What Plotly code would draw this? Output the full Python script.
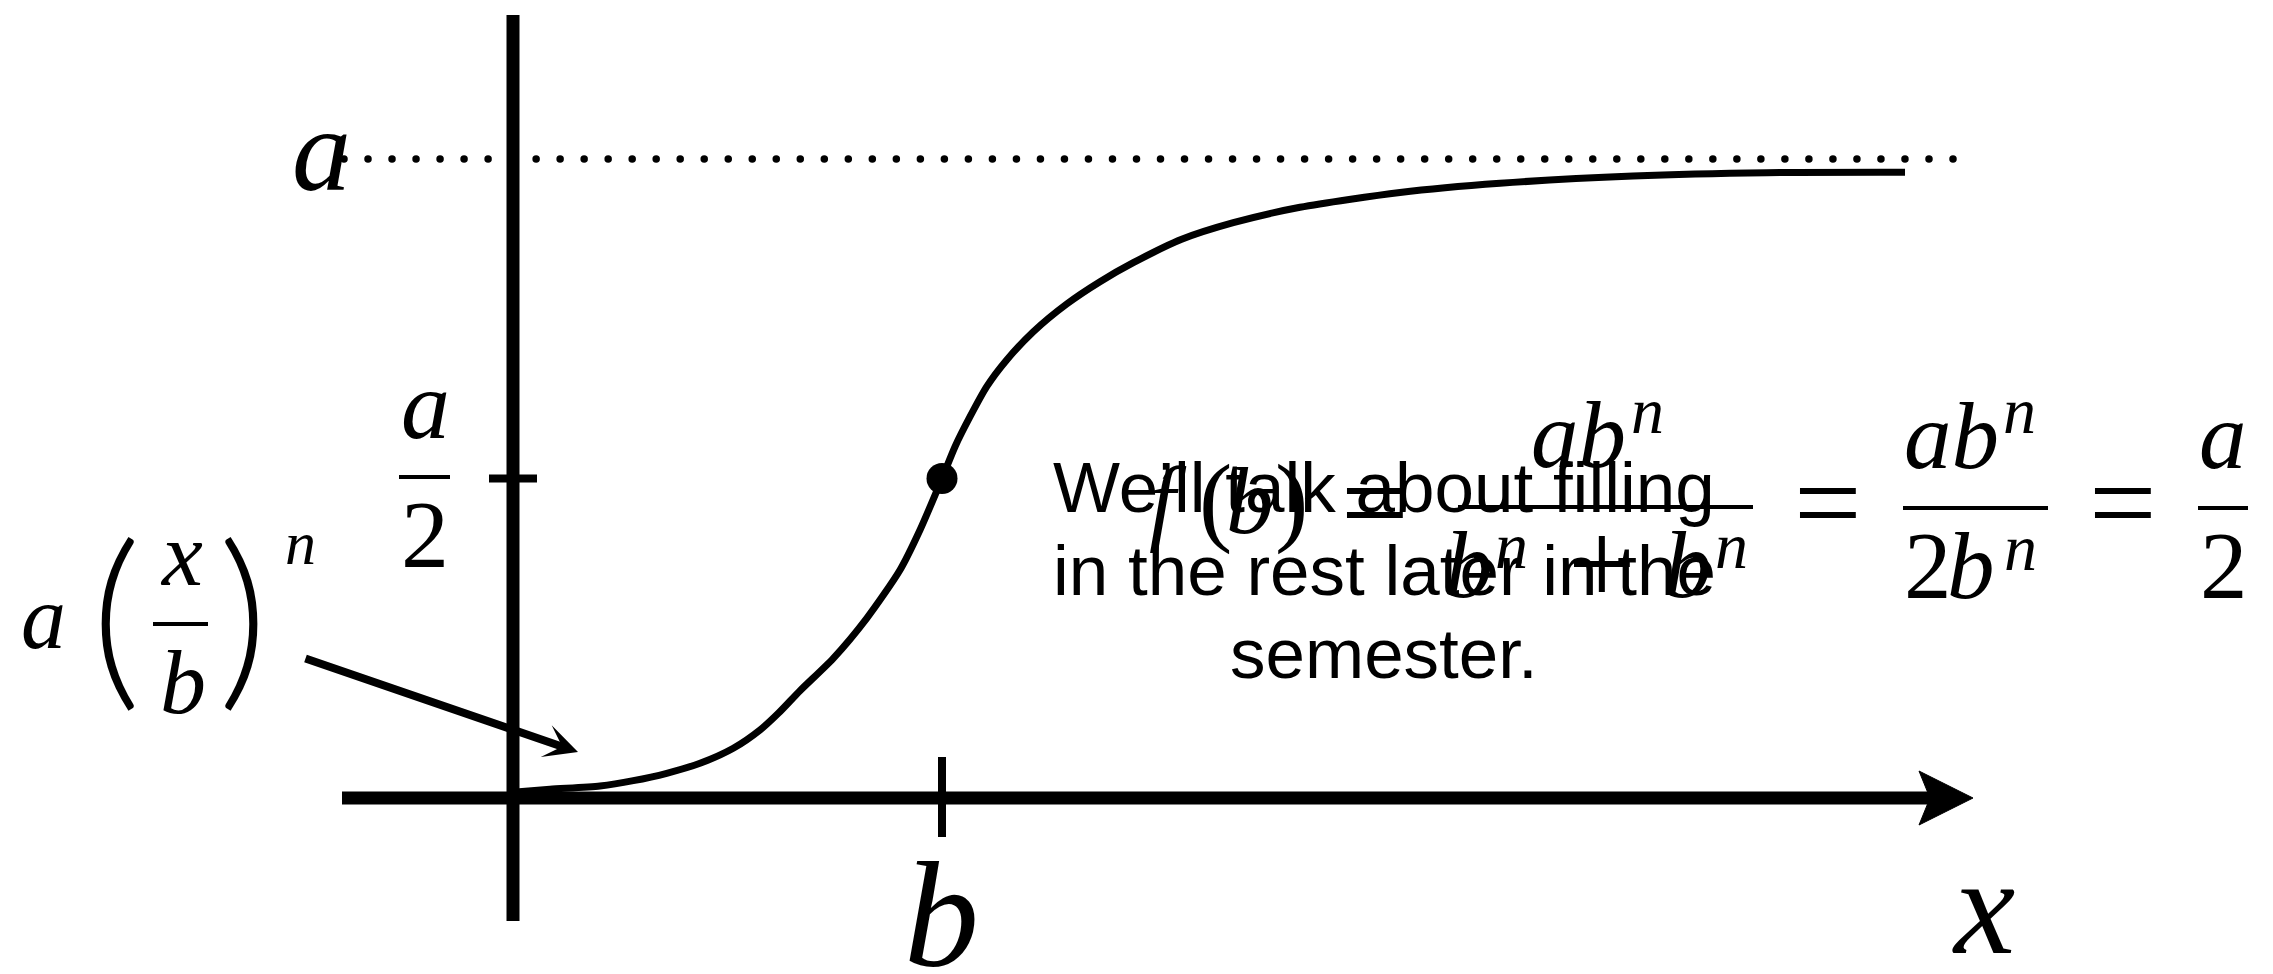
import numpy as np
import plotly.graph_objects as go

# ---- model values (x in units of b, y in units of a) ----
A = 1.0          # saturation level a
B = 1.0          # half-saturation point b

# sketched response curve f(x) = a x^n / (b^n + x^n)
curve_x = [0.0, 0.0862, 0.2028, 0.2804, 0.3583, 0.4359, 0.5135, 0.5758, 0.6184,
           0.6690, 0.7466, 0.8245, 0.9021, 0.9487, 1.0, 1.0303, 1.0653, 1.1042,
           1.1508, 1.2128, 1.2907, 1.3683, 1.4459, 1.5587, 1.6790, 1.8345,
           2.0676, 2.3007, 2.6107, 2.9224, 3.2448]
curve_y = [0.009, 0.0136, 0.0188, 0.0271, 0.0387, 0.0543, 0.0778, 0.1064, 0.1325,
           0.1679, 0.2186, 0.2812, 0.3568, 0.4194, 0.5, 0.5498, 0.5967, 0.6437,
           0.6854, 0.7297, 0.7731, 0.8080, 0.8377, 0.8743, 0.9003, 0.9244,
           0.9476, 0.9620, 0.9734, 0.9786, 0.9792]

note_lines = ["We\u2019ll talk about filling", "in the rest later in the", "semester."]

# ---- canvas geometry ----
W, H = 2273, 974
ORIGIN_PX = (513.0, 798.0)
PX_PER_X = 429.0
PX_PER_Y = 639.0


def dx(px):
    return (px - ORIGIN_PX[0]) / PX_PER_X


def dy(py):
    return (ORIGIN_PX[1] - py) / PX_PER_Y


fig = go.Figure()

# dotted asymptote at y = a
guide_x = np.linspace(dx(344), dx(1953), 68)
fig.add_trace(go.Scatter(x=guide_x, y=[A] * len(guide_x), mode="markers",
                         marker=dict(size=7.5, color="black"), hoverinfo="skip"))

# response curve
fig.add_trace(go.Scatter(x=curve_x, y=curve_y, mode="lines",
                         line=dict(color="black", width=7, shape="spline", smoothing=0.7),
                         hoverinfo="skip"))

# half-saturation point
fig.add_trace(go.Scatter(x=[B], y=[A / 2], mode="markers",
                         marker=dict(size=31, color="black"), hoverinfo="skip"))

shapes = []


def seg(x0, y0, x1, y1, w):
    shapes.append(dict(type="line", xref="x", yref="y", x0=x0, y0=y0, x1=x1, y1=y1,
                       line=dict(color="black", width=w)))


# axes
seg(0, dy(921), 0, dy(15), 13)
seg(dx(342), 0, dx(1932), 0, 13)
head = [(1973, 798), (1919, 771), (1930, 798), (1919, 825)]
shapes.append(dict(type="path", xref="x", yref="y",
                   path="M " + " L ".join(f"{dx(p):.5f},{dy(q):.5f}" for p, q in head) + " Z",
                   fillcolor="black", line=dict(color="black", width=1)))

# ticks at a/2 and b
seg(dx(489), A / 2, dx(537), A / 2, 8)
seg(B, dy(757), B, dy(837), 8)

# fraction bars
for x0, x1, yb in [(399, 450, 477), (153, 208, 624), (1458, 1753, 507),
                   (1903, 2048, 508), (2198, 2248, 508)]:
    seg(dx(x0), dy(yb), dx(x1), dy(yb), 4)

annotations = []
METRICS = {"Liberation Serif": (0.891, 0.216), "Liberation Sans": (0.905, 0.212),
           "Lato": (0.987, 0.213)}


def label(text, cx, base, size, italic=False, family="Liberation Serif", weight=None):
    asc, desc = METRICS[family]
    mid = base - (asc - desc) / 2 * size
    font = dict(family=family, size=size, color="black")
    if weight:
        font["weight"] = weight
    annotations.append(dict(x=dx(cx), y=dy(mid), xref="x", yref="y",
                            text=f"<i>{text}</i>" if italic else text,
                            showarrow=False, xanchor="center", yanchor="middle",
                            borderpad=0, font=font))


# axis labels
label("a", 321, 190, 118, italic=True)
label("a", 425, 438, 98, italic=True)
label("2", 425, 567, 96)
label("b", 941, 966, 150, italic=True)
label("x", 1983, 953, 138, italic=True)

# a (x/b)^n
label("a", 43, 648, 90, italic=True)
label("(", 116, 685, 194, family="Lato", weight=300)
label("x", 181, 585, 92, italic=True)
label("b", 183, 713, 92, italic=True)
label(")", 243, 685, 194, family="Lato", weight=300)
label("n", 300, 564, 62, italic=True)

# f(b) = ab^n/(b^n+b^n) = ab^n/2b^n = a/2
label("f", 1168, 533, 95, italic=True)
label("(", 1215, 533, 100)
label("b", 1250, 533, 95, italic=True)
label(")", 1291, 533, 100)
label("=", 1375, 543, 120)
label("ab", 1578, 467, 95, italic=True)
label("n", 1647, 433, 66, italic=True)
label("b", 1469, 597, 95, italic=True)
label("n", 1511, 568, 66, italic=True)
label("+", 1602, 604, 120)
label("b", 1688, 597, 95, italic=True)
label("n", 1731, 568, 66, italic=True)
label("=", 1828, 543, 120)
label("ab", 1951, 468, 95, italic=True)
label("n", 2019, 433, 66, italic=True)
label("2", 1928, 598, 95)
label("b", 1971, 598, 95, italic=True)
label("n", 2020, 570, 66, italic=True)
label("=", 2123, 543, 120)
label("a", 2223, 468, 95, italic=True)
label("2", 2224, 598, 95)

# note text
for line, base in zip(note_lines, [512, 595, 678]):
    label(line, 1384, base, 71, family="Liberation Sans")

# pointer to the low-x regime
annotations.append(dict(x=dx(578), y=dy(752), ax=dx(304), ay=dy(658),
                        xref="x", yref="y", axref="x", ayref="y", text="",
                        showarrow=True, arrowhead=3, arrowwidth=8, arrowsize=0.7,
                        arrowcolor="black"))

fig.update_layout(
    width=W, height=H, autosize=False,
    margin=dict(l=0, r=0, t=0, b=0),
    paper_bgcolor="white", plot_bgcolor="white",
    showlegend=False,
    xaxis=dict(visible=False, range=[dx(0), dx(W)], fixedrange=True),
    yaxis=dict(visible=False, range=[dy(H), dy(0)], fixedrange=True),
    shapes=shapes, annotations=annotations,
)

fig.write_html("out.html")
